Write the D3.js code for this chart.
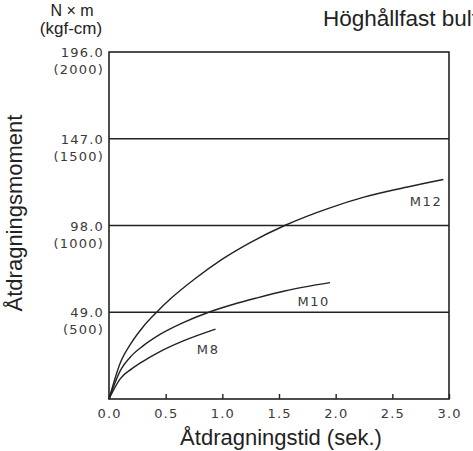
<!DOCTYPE html>
<html lang="sv">
  <head>
    <meta charset="utf-8">
    <title>Höghållfast bult</title>
    <style>
      body { margin: 0; background: #fff; }
      svg { display: block; }
      .tick-label { font-family: "DejaVu Sans", sans-serif; font-size: 13px; letter-spacing: 1.2px; fill: #3a3a3a; }
      .title { font-family: "Liberation Sans", Arial, sans-serif; fill: #222; }
    </style>
  </head>
  <body>
    <svg></svg>
    <script src="https://cdn.jsdelivr.net/npm/d3@7/dist/d3.min.js"></script>
    <script>
      // x ticks (seconds) and y ticks (N x m, with kgf-cm in brackets)
      var xTicks = [0.0, 0.5, 1.0, 1.5, 2.0, 2.5, 3.0];
      var yTicks = [49.0, 98.0, 147.0, 196.0];
      var yTicksKgf = [500, 1000, 1500, 2000];

      // curves
      var timeM8 = [0, 0.1, 0.2, 0.3, 0.45, 0.65, 0.94];
      var torqueM8 = [0, 11.5, 17, 21.3, 26.8, 32.7, 39.5];

      var timeM10 = [0, 0.1, 0.2, 0.3, 0.45, 0.65, 0.88, 1.1, 1.3, 1.55, 1.95];
      var torqueM10 = [0, 16, 24.5, 30, 36.5, 43, 49, 53.5, 57, 61, 65.7];

      var timeM12 = [0, 0.1, 0.2, 0.3, 0.42, 0.55, 0.75, 1.0, 1.25, 1.55, 1.95, 2.25, 2.6, 2.95];
      var torqueM12 = [0, 20.5, 32, 40.7, 49, 57, 67.5, 79, 88.5, 98, 108, 114, 119.3, 124];

      var seriesNames = ["M8", "M10", "M12"];

      var width = 473, height = 451;
      var svg = d3.select("svg").attr("width", width).attr("height", height);

      var x = d3.scaleLinear().domain([0, 3]).range([109, 449]);
      var y = d3.scaleLinear().domain([0, 196]).range([399, 52]);

      var series = [
        {name: seriesNames[0], t: timeM8, v: torqueM8, dx: 4, dy: 25},
        {name: seriesNames[1], t: timeM10, v: torqueM10, dx: 0, dy: 23},
        {name: seriesNames[2], t: timeM12, v: torqueM12, dx: -1, dy: 27}
      ];

      var ink = "#222";

      // horizontal grid lines
      svg.selectAll(".grid")
         .data(yTicks.slice(0, 3))
         .enter()
         .append("line")
         .attr("x1", x(0)).attr("x2", x(3))
         .attr("y1", function(d){ return y(d); })
         .attr("y2", function(d){ return y(d); })
         .style("stroke", ink)
         .style("stroke-width", 1.4);

      // frame
      svg.append("rect")
         .attr("x", x(0)).attr("y", y(196))
         .attr("width", x(3) - x(0)).attr("height", y(0) - y(196))
         .style("fill", "none")
         .style("stroke", ink)
         .style("stroke-width", 1.6);

      // x axis: short ticks pointing inward
      var xAxis = d3.axisTop(x).tickValues(xTicks).tickSize(5).tickFormat("");
      var gx = svg.append("g").attr("transform", "translate(0," + y(0) + ")").call(xAxis);
      gx.select(".domain").remove();
      gx.selectAll(".tick line").style("stroke", ink).style("stroke-width", 1.4);

      svg.selectAll(".xlab")
         .data(xTicks)
         .enter()
         .append("text")
         .attr("class", "tick-label")
         .attr("x", function(d){ return x(d) + 0.6; })
         .attr("y", 418)
         .attr("text-anchor", "middle")
         .text(function(d){ return d3.format(".1f")(d); });

      // y labels, two lines each
      var ylab = svg.selectAll(".ylab")
         .data(yTicks)
         .enter()
         .append("g");
      ylab.append("text")
          .attr("class", "tick-label")
          .attr("x", 104)
          .attr("y", function(d){ return y(d) + 5; })
          .attr("text-anchor", "end")
          .text(function(d){ return d3.format(".1f")(d); });
      ylab.append("text")
          .attr("class", "tick-label")
          .attr("x", 104)
          .attr("y", function(d){ return y(d) + 22; })
          .attr("text-anchor", "end")
          .text(function(d, i){ return "(" + yTicksKgf[i] + ")"; });

      // curves
      var line = d3.line()
                   .x(function(d){ return x(d[0]); })
                   .y(function(d){ return y(d[1]); })
                   .curve(d3.curveMonotoneX);

      series.forEach(function(s){
        var pts = s.t.map(function(t, i){ return [t, s.v[i]]; });
        svg.append("path")
           .attr("d", line(pts))
           .style("fill", "none")
           .style("stroke", ink)
           .style("stroke-width", 1.4);
        var last = pts[pts.length - 1];
        svg.append("text")
           .attr("class", "tick-label")
           .attr("x", x(last[0]) + s.dx)
           .attr("y", y(last[1]) + s.dy)
           .attr("text-anchor", "end")
           .style("letter-spacing", "1.6px")
           .text(s.name);
      });

      // titles
      svg.append("text").attr("class", "title")
         .attr("x", 323).attr("y", 26)
         .style("font-size", "22.5px")
         .text("Höghållfast bult");

      svg.append("text").attr("class", "title")
         .attr("x", 72).attr("y", 16)
         .attr("text-anchor", "middle")
         .style("font-size", "16px")
         .text("N × m");
      svg.append("text").attr("class", "title")
         .attr("x", 71).attr("y", 34)
         .attr("text-anchor", "middle")
         .style("font-size", "17px")
         .text("(kgf-cm)");

      svg.append("text").attr("class", "title")
         .attr("x", 281).attr("y", 445)
         .attr("text-anchor", "middle")
         .style("font-size", "22px")
         .text("Åtdragningstid (sek.)");

      svg.append("text").attr("class", "title")
         .attr("transform", "translate(22,213) rotate(-90)")
         .attr("text-anchor", "middle")
         .style("font-size", "22px")
         .text("Åtdragningsmoment");
    </script>
  </body>
</html>
